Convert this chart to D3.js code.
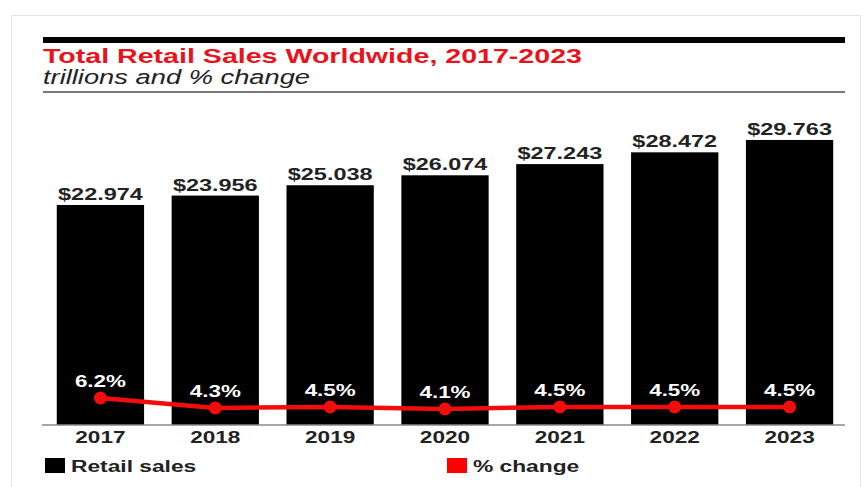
<!DOCTYPE html>
<html>
<head>
<meta charset="utf-8">
<script src="https://cdn.jsdelivr.net/npm/d3@7"></script>
<style>
  html, body { margin: 0; padding: 0; background: #fff; }
  svg { display: block; }
  text { font-family: "Liberation Sans", Arial, sans-serif; }
</style>
</head>
<body>
<svg id="chart" width="867" height="487"></svg>
<script>
// Data: worldwide retail sales (trillions USD) and year-over-year % change
const years = ["2017", "2018", "2019", "2020", "2021", "2022", "2023"];
const retailSales = [22.974, 23.956, 25.038, 26.074, 27.243, 28.472, 29.763];
const pctChange = [6.2, 4.3, 4.5, 4.1, 4.5, 4.5, 4.5];
const legendLabels = ["Retail sales", "% change"];

const titleText = "Total Retail Sales Worldwide, 2017-2023";
const subtitleText = "trillions and % change";

const svg = d3.select("#chart");
const RED = "#e8141c";
const LINE_RED = "#f20d0d";

// place a text with a horizontal stretch around its anchor point (wide lettering)
function placeText(sel, x, y, sx) {
  sel.attr("x", 0).attr("y", 0)
     .attr("transform", `translate(${x},${y}) scale(${sx},1)`);
  return sel;
}

// outer card border
svg.append("rect")
  .attr("x", 11.5).attr("y", 15.5)
  .attr("width", 849).attr("height", 480)
  .attr("fill", "none").attr("stroke", "#e6e6e6").attr("stroke-width", 1);

const left = 43, right = 845;

// header rule, title, subtitle, and thin rule
svg.append("rect").attr("x", left).attr("y", 37).attr("width", right - left).attr("height", 6).attr("fill", "#000");

placeText(svg.append("text").text(titleText)
  .attr("fill", RED).attr("font-size", 20).attr("font-weight", "bold"), left, 63, 1.43);

placeText(svg.append("text").text(subtitleText)
  .attr("fill", "#222").attr("font-size", 19.5).attr("font-style", "italic"), left, 84, 1.4);

svg.append("rect").attr("x", left).attr("y", 91).attr("width", right - left).attr("height", 2).attr("fill", "#777");

// scales
const x = d3.scaleBand().domain(years).range([43, 847]).paddingInner(0.24).paddingOuter(0.12);
const y = d3.scaleLinear().domain([0, 30]).range([425, 137.7]);
const yPct = d3.scaleLinear().domain([0, 10]).range([430.5, 378.1]);

// bars
svg.append("g").selectAll("rect")
  .data(years)
  .join("rect")
  .attr("x", d => x(d))
  .attr("width", x.bandwidth())
  .attr("y", (d, i) => y(retailSales[i]))
  .attr("height", (d, i) => y(0) - y(retailSales[i]))
  .attr("fill", "#000");

// bar value labels
svg.append("g").selectAll("text")
  .data(years)
  .join("text")
  .text((d, i) => "$" + d3.format(".3f")(retailSales[i]))
  .attr("text-anchor", "middle")
  .attr("font-size", 17)
  .attr("font-weight", "bold")
  .attr("fill", "#222")
  .each(function (d, i) {
    placeText(d3.select(this), x(d) + x.bandwidth() / 2, y(retailSales[i]) - 5, 1.38);
  });

// x axis
const axis = svg.append("g")
  .attr("transform", "translate(0,425)")
  .call(d3.axisBottom(x).tickSize(0).tickPadding(0));
axis.select(".domain").attr("stroke", "#888").attr("stroke-width", 1.5).attr("d", `M${left - 1},0H${right}`);
axis.selectAll(".tick text")
  .attr("font-family", "'Liberation Sans', Arial, sans-serif")
  .attr("font-size", 17)
  .attr("font-weight", "bold")
  .attr("fill", "#222")
  .attr("dy", 0)
  .attr("y", 0)
  .attr("transform", `translate(0,18) scale(1.33,1)`);

// % change line and markers
const cx = d => x(d) + x.bandwidth() / 2;
const line = d3.line()
  .x((d, i) => cx(years[i]))
  .y(d => yPct(d));

svg.append("path")
  .datum(pctChange)
  .attr("d", line)
  .attr("fill", "none")
  .attr("stroke", LINE_RED)
  .attr("stroke-width", 4.5);

svg.append("g").selectAll("circle")
  .data(pctChange)
  .join("circle")
  .attr("cx", (d, i) => cx(years[i]))
  .attr("cy", d => yPct(d))
  .attr("r", 6.5)
  .attr("fill", LINE_RED);

svg.append("g").selectAll("text")
  .data(pctChange)
  .join("text")
  .text(d => d3.format(".1f")(d) + "%")
  .attr("text-anchor", "middle")
  .attr("font-size", 16)
  .attr("font-weight", "bold")
  .attr("fill", "#fff")
  .each(function (d, i) {
    placeText(d3.select(this), cx(years[i]), yPct(d) - 11, 1.4);
  });

// legend
const legendItems = [
  { label: legendLabels[0], color: "#000", x: 45 },
  { label: legendLabels[1], color: "#f00", x: 447 }
];
const lg = svg.append("g").selectAll("g")
  .data(legendItems)
  .join("g")
  .attr("transform", d => `translate(${d.x},458)`);
lg.append("rect").attr("width", 20).attr("height", 15).attr("fill", d => d.color);
lg.append("text")
  .text(d => d.label)
  .attr("font-size", 17)
  .attr("font-weight", "bold")
  .attr("fill", "#222")
  .each(function () { placeText(d3.select(this), 26, 13.5, 1.34); });
</script>
</body>
</html>
